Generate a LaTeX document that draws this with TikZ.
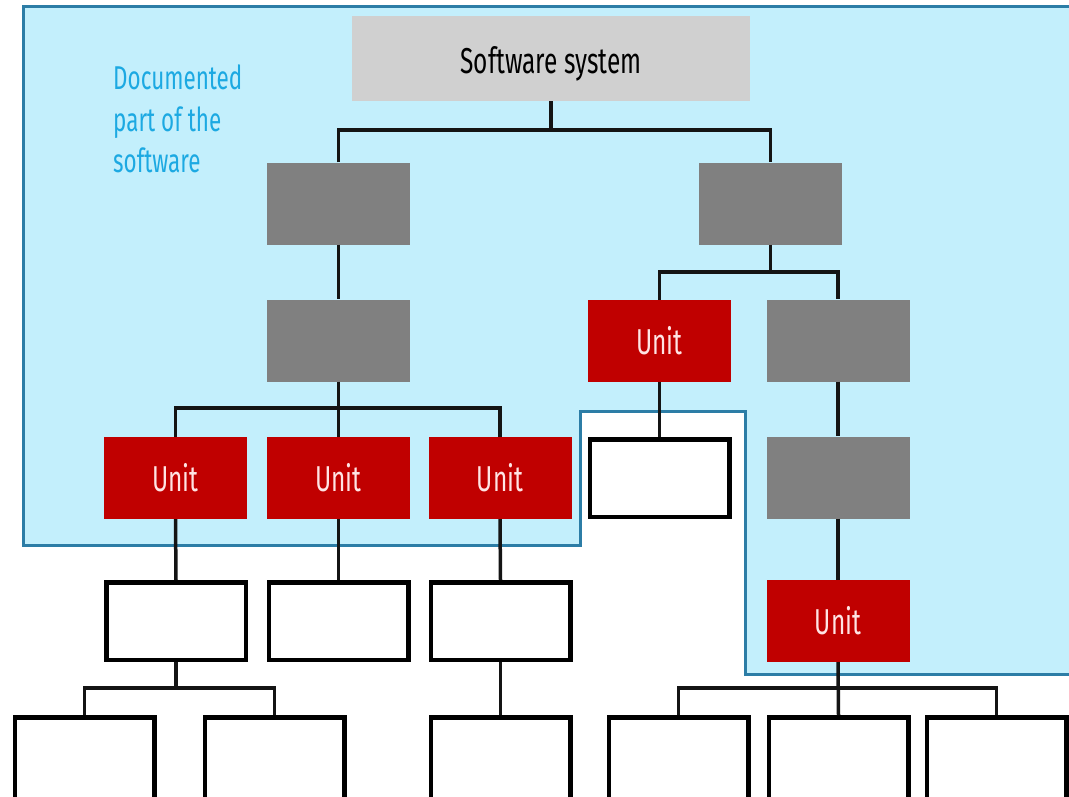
\documentclass[tikz,border=0pt]{standalone}
\usepackage{fontspec}
\setmainfont{Fira Sans}[FakeStretch=0.68]
\definecolor{docfill}{HTML}{C3EFFC}
\definecolor{docline}{HTML}{2C7DA6}
\definecolor{doctext}{HTML}{1CA9E2}
\definecolor{unitred}{HTML}{C00000}
\definecolor{unittext}{HTML}{FFE4E4}
\definecolor{midgray}{HTML}{808080}
\definecolor{lightgray}{HTML}{D0D0D0}
\definecolor{wire}{HTML}{141414}
\tikzset{
  box/.style={rectangle, inner sep=0pt, minimum width=143pt, minimum height=82pt},
  sysbox/.style={box, fill=lightgray, minimum width=398pt, minimum height=85pt,
    font=\fontsize{36}{40}\selectfont, text=black},
  groupbox/.style={box, fill=midgray},
  unitbox/.style={box, fill=unitred, text=unittext, font=\fontsize{36}{40}\selectfont},
  plainbox/.style={box, draw=black, line width=4.5pt, fill=white,
    minimum width=139.5pt, minimum height=77.5pt},
  conn/.style={draw=wire, line width=3.5pt},
}
\begin{document}
\begin{tikzpicture}[x=1pt, y=-1pt]
  \useasboundingbox (0,0) rectangle (1069,796);
  \fill[white] (0,0) rectangle (1069,796);

  % documented region
  \draw[docline, fill=docfill, line width=3pt]
    (23,6) -- (1080,6) -- (1080,674) -- (745,674) -- (745,411)
    -- (580,411) -- (580,545) -- (23,545) -- cycle;
  \node[anchor=north west, align=left, text=doctext, inner sep=0pt,
        font=\fontsize{33}{41.5}\selectfont] (doc) at (113,65)
    {Documented\\part of the\\software};

  % bar heights of the tree
  \coordinate (j1) at (0,130);
  \coordinate (j2) at (0,272);
  \coordinate (j3) at (0,408);
  \coordinate (j4) at (0,688);

  % boxes
  \node[sysbox] (sys) at (551,58.5) {\raisebox{-15pt}[0pt][0pt]{Software system}};
  \node[groupbox] (g1) at (338.5,203.5) {};
  \node[groupbox] (g2) at (770.5,203.5) {};
  \node[groupbox] (g3) at (338.5,340.5) {};
  \node[unitbox] (uR) at (659.5,341) {Unit};
  \node[groupbox] (g4) at (838,340.5) {};
  \node[unitbox] (u1) at (175.5,478) {Unit};
  \node[unitbox] (u2) at (338.5,478) {Unit};
  \node[unitbox] (u3) at (500,478) {Unit};
  \node[plainbox] (wR) at (659.5,478) {};
  \node[groupbox] (g5) at (838,477.5) {};
  \node[unitbox] (u4) at (838,621) {Unit};
  \node[plainbox] (w1) at (176,621) {};
  \node[plainbox] (w2) at (338.5,621) {};
  \node[plainbox] (w3) at (500.5,621) {};
  \node[plainbox, minimum height=90pt, anchor=north] (b1) at (84.5,715) {};
  \node[plainbox, minimum height=90pt, anchor=north] (b2) at (274.5,715) {};
  \node[plainbox, minimum height=90pt, anchor=north] (b3) at (500.5,715) {};
  \node[plainbox, minimum height=90pt, anchor=north] (b4) at (678.5,715) {};
  \node[plainbox, minimum height=90pt, anchor=north] (b5) at (838.5,715) {};
  \node[plainbox, minimum height=90pt, anchor=north] (b6) at (996.5,715) {};

  % connectors
  \draw[conn] (sys.south) -- (sys.south |- j1);
  \draw[conn] (g1.north) |- (g2.north |- j1) -- (g2.north);
  \draw[conn] (g1.south) -- (g3.north);
  \draw[conn] (g2.south) -- (g2.south |- j2);
  \draw[conn] (uR.north) |- (g4.north |- j2) -- (g4.north);
  \draw[conn] (g3.south) -- (u2.north);
  \draw[conn] (u1.north) |- (u3.north |- j3) -- (u3.north);
  \draw[conn] (uR.south) -- (wR.north);
  \draw[conn] (g4.south) -- (g5.north);
  \draw[conn] (g5.south) -- (u4.north);
  \draw[conn] (u1.south) -- (w1.north);
  \draw[conn] (u2.south) -- (w2.north);
  \draw[conn] (u3.south) -- (w3.north);
  \draw[conn] (w1.south) -- (w1.south |- j4);
  \draw[conn] (b1.north) |- (b2.north |- j4) -- (b2.north);
  \draw[conn] (w3.south) -- (b3.north);
  \draw[conn] (u4.south) -- (b5.north);
  \draw[conn] (b4.north) |- (b6.north |- j4) -- (b6.north);
\end{tikzpicture}
\end{document}
